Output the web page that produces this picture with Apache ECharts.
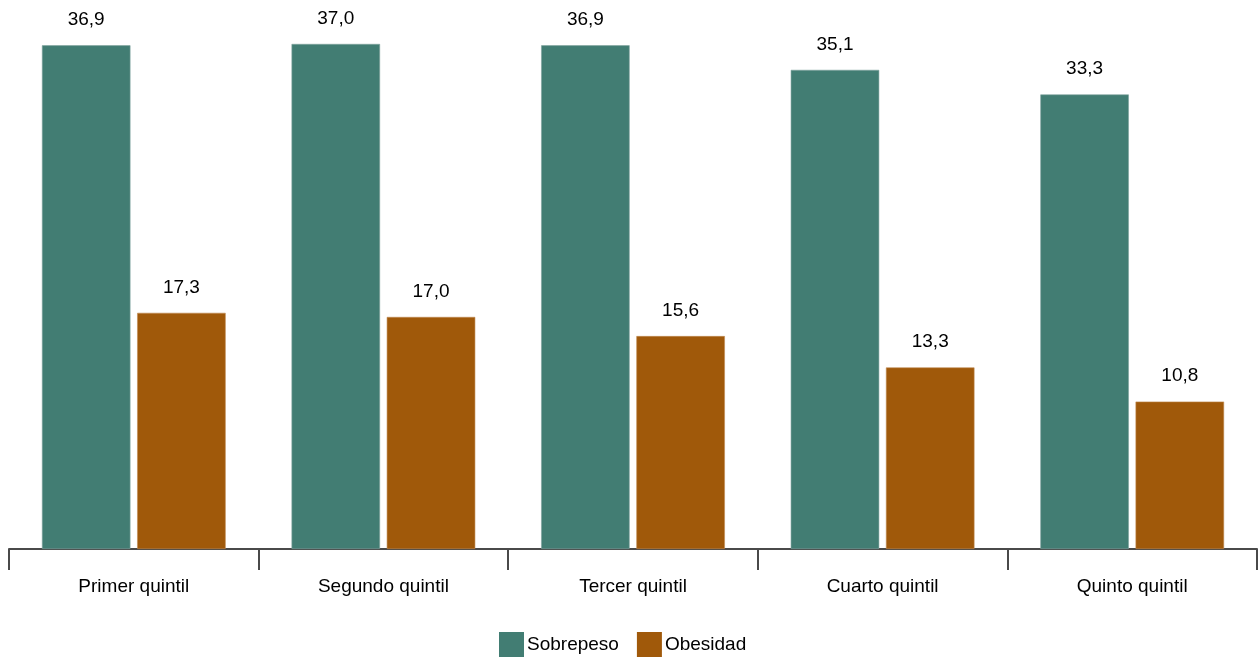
<!DOCTYPE html>
<html><head><meta charset="utf-8">
<script src="https://cdn.jsdelivr.net/npm/echarts@6/dist/echarts.min.js"></script>
<style>html,body{margin:0;padding:0;background:#fff}#c{width:1259px;height:657px}</style>
</head><body><div id="c"></div>
<script>
const categories = ['Primer quintil','Segundo quintil','Tercer quintil','Cuarto quintil','Quinto quintil'];
const sobrepeso = [36.9, 37.0, 36.9, 35.1, 33.3];
const obesidad = [17.3, 17.0, 15.6, 13.3, 10.8];
const seriesNames = ['Sobrepeso','Obesidad'];

const font = 'Liberation Sans, Arial, sans-serif';
const chart = echarts.init(document.getElementById('c'));
const lbl = {show:true, position:'top', distance:16, color:'#000', fontSize:19, fontFamily:font,
  formatter: p => p.value.toFixed(1).replace('.', ',')};
chart.setOption({
  animation:false,
  grid:{left:9, right:2, top:3, bottom:108, containLabel:false},
  legend:{bottom:0, left:499, padding:0, itemWidth:25, itemHeight:25, itemGap:18, icon:'rect',
    itemStyle:{borderWidth:0},
    textStyle:{fontSize:19, fontFamily:font, color:'#000', padding:[0,0,0,-2]},
    data:seriesNames},
  xAxis:{type:'category', data:categories,
    axisLine:{lineStyle:{color:'#4a4a4a', width:2}},
    axisTick:{show:true, length:21, lineStyle:{color:'#4a4a4a', width:2}},
    axisLabel:{fontSize:19, fontFamily:font, color:'#000', margin:28}},
  yAxis:{type:'value', min:0, max:40, show:false, splitLine:{show:false}},
  series:[
    {name:seriesNames[0], type:'bar', data:sobrepeso, barWidth:88.5, barGap:'7.6%',
      itemStyle:{color:'#427D73', borderColor:'#7fa39d', borderWidth:0.6}, label:lbl},
    {name:seriesNames[1], type:'bar', data:obesidad, barWidth:88.5,
      itemStyle:{color:'#A0590A', borderColor:'#c08a50', borderWidth:0.6}, label:lbl}
  ]
});
</script></body></html>
